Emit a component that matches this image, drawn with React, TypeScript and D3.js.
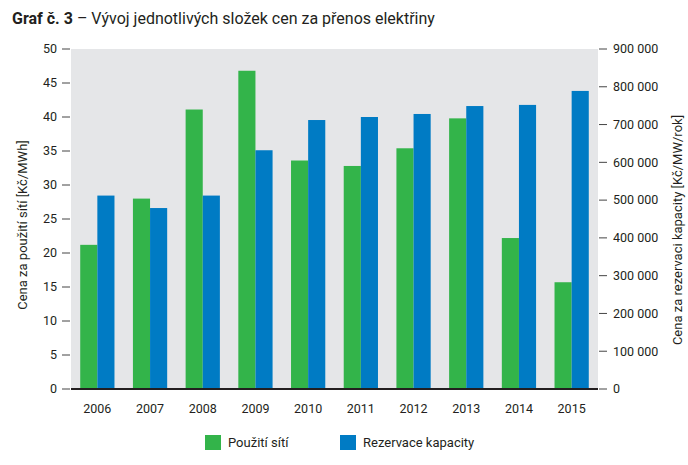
import * as d3 from 'd3';

const years = ['2006', '2007', '2008', '2009', '2010', '2011', '2012', '2013', '2014', '2015'];
const networkUse = [21.2, 28.0, 41.1, 46.8, 33.6, 32.8, 35.4, 39.8, 22.2, 15.7];
const capacity = [512000, 479000, 512000, 632000, 712000, 720000, 728000, 749000, 752000, 789000];
const leftTicks = [0, 5, 10, 15, 20, 25, 30, 35, 40, 45, 50];
const rightTicks = [0, 100000, 200000, 300000, 400000, 500000, 600000, 700000, 800000, 900000];

const GREEN = '#33b44a';
const BLUE = '#007bc4';
const TEXT = '#231f20';
const FONT = "Roboto, 'Noto Sans', sans-serif";

const width = 688;
const height = 465;
const plot = { left: 71, right: 598, top: 49, bottom: 389 };

const fmt = (v: number) => d3.format(',')(v).replace(/,/g, ' ');

function App() {
  const x = d3.scaleBand<string>().domain(years).range([plot.left, plot.right]).paddingInner(0.35).paddingOuter(0.175);
  const sub = d3.scaleBand<string>().domain(['a', 'b']).range([0, x.bandwidth()]);
  const yL = d3.scaleLinear().domain([0, 50]).range([plot.bottom, plot.top]);
  const yR = d3.scaleLinear().domain([0, 900000]).range([plot.bottom, plot.top]);

  return (
    <svg
      width={width}
      height={height}
      style={{ position: 'absolute', left: 0, top: 0, background: '#fff' }}
      fontFamily={FONT}
    >
      <text x={12} y={24} fontSize={16} fill={TEXT}>
        <tspan fontWeight="bold">Graf č. 3</tspan>
        <tspan> – Vývoj jednotlivých složek cen za přenos elektřiny</tspan>
      </text>

      <rect x={plot.left} y={plot.top} width={plot.right - plot.left} height={plot.bottom - plot.top} fill="#e5e6e8" />

      {years.map((yr, i) => (
        <g key={yr}>
          <rect
            x={(x(yr) ?? 0) + (sub('a') ?? 0)}
            y={yL(networkUse[i])}
            width={sub.bandwidth()}
            height={plot.bottom - yL(networkUse[i])}
            fill={GREEN}
          />
          <rect
            x={(x(yr) ?? 0) + (sub('b') ?? 0)}
            y={yR(capacity[i])}
            width={sub.bandwidth()}
            height={plot.bottom - yR(capacity[i])}
            fill={BLUE}
          />
          <text
            x={(x(yr) ?? 0) + x.bandwidth() / 2}
            y={413}
            textAnchor="middle"
            fontSize={12.5}
            fill={TEXT}
          >
            {yr}
          </text>
        </g>
      ))}

      <line x1={plot.left} x2={plot.right} y1={plot.bottom} y2={plot.bottom} stroke={TEXT} strokeWidth={2} />

      {leftTicks.map((t) => (
        <g key={'l' + t}>
          <line x1={62} x2={70} y1={yL(t)} y2={yL(t)} stroke="#444" strokeWidth={1} />
          <text x={57} y={yL(t)} dy="0.35em" textAnchor="end" fontSize={12.5} fill={TEXT}>
            {t}
          </text>
        </g>
      ))}

      {rightTicks.map((t) => (
        <g key={'r' + t}>
          <line x1={599} x2={607} y1={yR(t)} y2={yR(t)} stroke="#444" strokeWidth={1} />
          <text x={613} y={yR(t)} dy="0.35em" textAnchor="start" fontSize={12.5} fill={TEXT}>
            {fmt(t)}
          </text>
        </g>
      ))}

      <text
        transform="translate(27, 225) rotate(-90)"
        textAnchor="middle"
        fontSize={13}
        fill={TEXT}
      >
        Cena za použití sítí [Kč/MWh]
      </text>
      <text
        transform="translate(682, 230) rotate(-90)"
        textAnchor="middle"
        fontSize={13}
        fill={TEXT}
      >
        Cena za rezervaci kapacity [Kč/MW/rok]
      </text>

      <rect x={205} y={435} width={16} height={15} fill={GREEN} />
      <text x={228} y={447} fontSize={13} fill={TEXT}>
        Použití sítí
      </text>
      <rect x={340} y={435} width={16} height={15} fill={BLUE} />
      <text x={363} y={447} fontSize={13} fill={TEXT}>
        Rezervace kapacity
      </text>
    </svg>
  );
}

export default App;
